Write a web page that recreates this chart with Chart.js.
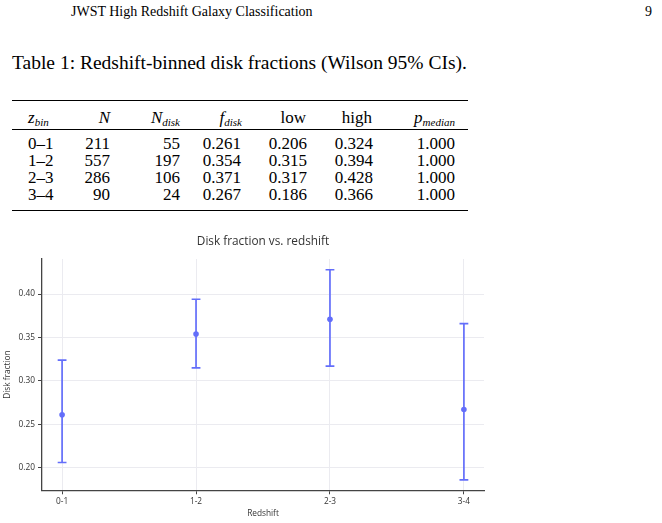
<!DOCTYPE html>
<html>
<head>
<meta charset="utf-8">
<title>Disk fraction vs. redshift</title>
<script src="https://cdn.jsdelivr.net/npm/chart.js@4.4.1/dist/chart.umd.min.js"></script>
<style>
  body {
    margin: 0;
    width: 662px;
    height: 523px;
    position: relative;
    overflow: hidden;
    background: #fff;
    color: #000;
    font-family: "Liberation Serif", "Times New Roman", serif;
  }
  .abs { position: absolute; white-space: nowrap; line-height: 1; }
  .ra { transform: translateX(-100%); }
  .rule { position: absolute; left: 12px; width: 456px; background: #000; }
  #runhead { left: 71px; top: 5px; font-size: 14px; }
  #pagenum { left: 645px; top: 5px; font-size: 14px; }
  #caption { left: 12px; top: 53px; font-size: 19.5px; }
  .cell { font-size: 17px; }
  .hd i { font-style: italic; }
  .hd sub { font-size: 11px; vertical-align: -3px; font-style: italic; }
  #chartBox { position: absolute; left: 0; top: 230px; width: 500px; height: 293px; }
</style>
</head>
<body>
<div id="runhead" class="abs">JWST High Redshift Galaxy Classification</div>
<div id="pagenum" class="abs">9</div>
<div id="caption" class="abs">Table 1: Redshift-binned disk fractions (Wilson 95% CIs).</div>
<div id="table"></div>
<div id="chartBox"><canvas id="diskChart" width="500" height="293"></canvas></div>

<script>
const categories = ['0-1', '1-2', '2-3', '3-4'];
const binLabels = ['0–1', '1–2', '2–3', '3–4'];
const nTotal = [211, 557, 286, 90];
const nDisk = [55, 197, 106, 24];
const fDisk = [0.261, 0.354, 0.371, 0.267];
const ciLow = [0.206, 0.315, 0.317, 0.186];
const ciHigh = [0.324, 0.394, 0.428, 0.366];
const pMedian = [1.000, 1.000, 1.000, 1.000];
const yTicks = [0.20, 0.25, 0.30, 0.35, 0.40];

// Table 1
const table = document.getElementById('table');
const headers = [
    { html: '<i>z</i><sub>bin</sub>', x: 28, right: false },
    { html: '<i>N</i>', x: 110, right: true },
    { html: '<i>N</i><sub>disk</sub>', x: 180, right: true },
    { html: '<i>f</i><sub>disk</sub>', x: 242, right: true },
    { html: 'low', x: 306, right: true },
    { html: 'high', x: 372, right: true },
    { html: '<i>p</i><sub>median</sub>', x: 455, right: true }
];
const colRight = [28, 110, 180, 241, 307, 373, 455];
const rowTop = [135, 152, 169, 186];

function addCell(html, x, top, right, extra) {
    const d = document.createElement('div');
    d.className = 'abs cell' + (right ? ' ra' : '') + (extra ? ' ' + extra : '');
    d.style.left = x + 'px';
    d.style.top = top + 'px';
    d.innerHTML = html;
    table.appendChild(d);
}
function addRule(top, h) {
    const r = document.createElement('div');
    r.className = 'rule';
    r.style.top = top + 'px';
    r.style.height = h + 'px';
    table.appendChild(r);
}

addRule(99.5, 1.8);
headers.forEach(h => addCell(h.html, h.x, 109, h.right, 'hd'));
addRule(128.5, 1);
categories.forEach((c, i) => {
    const row = [binLabels[i], nTotal[i], nDisk[i], fDisk[i].toFixed(3),
        ciLow[i].toFixed(3), ciHigh[i].toFixed(3), pMedian[i].toFixed(3)];
    row.forEach((v, j) => addCell(String(v), colRight[j], rowTop[i], j > 0));
});
addRule(209.5, 1.8);

// Disk fraction chart
const blue = '#636efa';
const textColor = '#333';
const tickFont = { family: 'Open Sans', size: 8.3 };

const errorBars = [];
categories.forEach((c, i) => {
    errorBars.push({ x: i, y: ciLow[i] }, { x: i, y: ciHigh[i] }, { x: i, y: null });
});
const points = fDisk.map((v, i) => ({ x: i, y: v }));

const ctx = document.getElementById('diskChart').getContext('2d');
const diskChart = new Chart(ctx, {
    type: 'scatter',
    data: {
        datasets: [{
            label: 'Wilson 95% CI',
            data: errorBars,
            showLine: true,
            spanGaps: false,
            borderColor: blue,
            borderWidth: 1.7,
            pointStyle: 'line',
            pointRadius: 4.4,
            pointHoverRadius: 4.4,
            pointBorderColor: blue,
            pointBorderWidth: 1.7
        }, {
            label: 'Disk fraction',
            data: points,
            pointRadius: 2.8,
            pointHoverRadius: 2.8,
            pointBackgroundColor: blue,
            pointBorderColor: blue,
            pointBorderWidth: 0
        }]
    },
    options: {
        responsive: false,
        animation: false,
        layout: { padding: { left: 0, right: 16, top: 0, bottom: 0 } },
        plugins: {
            legend: { display: false },
            tooltip: { enabled: false },
            title: {
                display: true,
                text: 'Disk fraction vs. redshift',
                fullSize: false,
                color: textColor,
                font: { family: 'Open Sans', size: 11.8, weight: 'normal' },
                padding: { top: 4.6, bottom: 10.2 }
            }
        },
        scales: {
            x: {
                type: 'linear',
                min: -0.15,
                max: 3.15,
                afterBuildTicks: s => { s.ticks = categories.map((c, i) => ({ value: i })); },
                afterFit: s => { s.height = 32.7; },
                ticks: {
                    callback: v => categories[v],
                    color: textColor,
                    font: tickFont,
                    padding: 2,
                    maxRotation: 0,
                    autoSkip: false
                },
                grid: { color: '#ebebf0', lineWidth: 1, tickLength: 4, tickColor: '#444' },
                border: { color: '#444', width: 1.3 },
                title: {
                    display: true,
                    text: 'Redshift',
                    color: textColor,
                    font: tickFont,
                    padding: { top: 0, bottom: 4.7 }
                }
            },
            y: {
                min: 0.174,
                max: 0.4404,
                afterBuildTicks: s => { s.ticks = yTicks.map(v => ({ value: v })); },
                afterFit: s => { s.width = 42; },
                ticks: {
                    callback: v => v.toFixed(2),
                    color: textColor,
                    font: tickFont,
                    padding: 3
                },
                grid: { color: '#ebebf0', lineWidth: 1, tickLength: 4, tickColor: '#444' },
                border: { color: '#444', width: 1.3 },
                title: {
                    display: true,
                    text: 'Disk fraction',
                    color: textColor,
                    font: tickFont,
                    padding: { top: 3, bottom: 0 }
                }
            }
        }
    }
});
</script>
</body>
</html>
